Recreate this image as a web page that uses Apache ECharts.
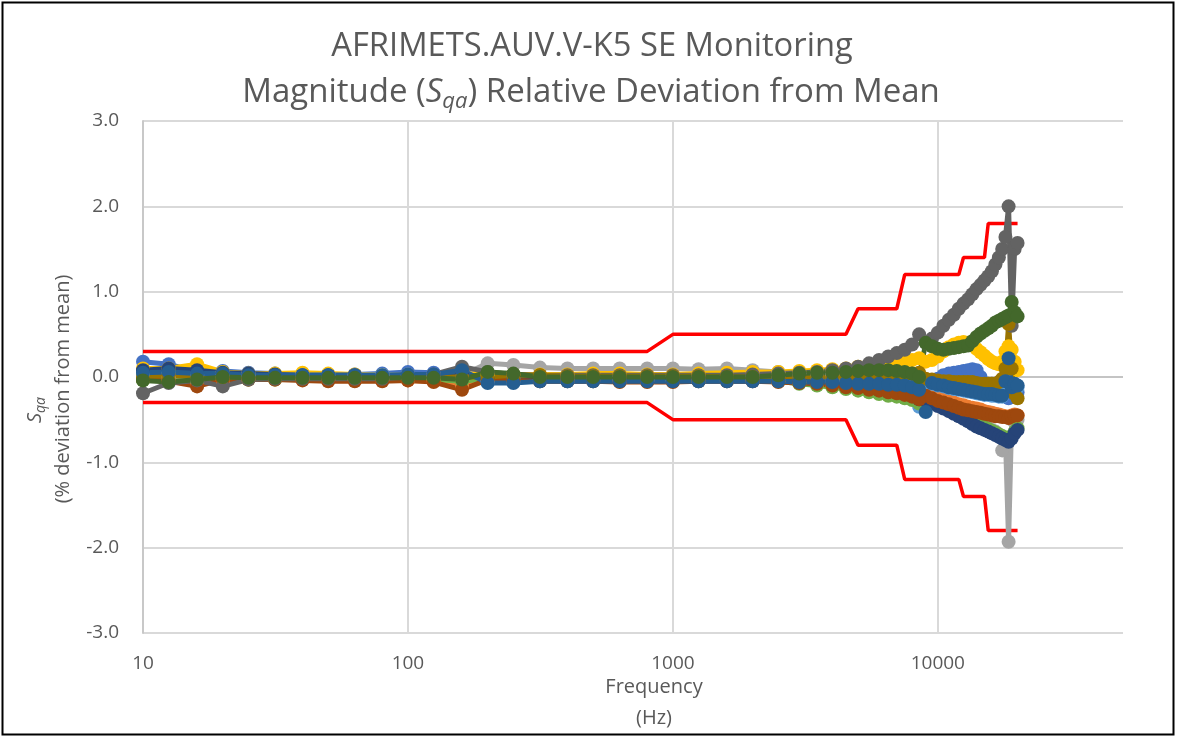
<!DOCTYPE html>
<html>
<head>
<meta charset="utf-8">
<script src="https://cdn.jsdelivr.net/npm/echarts@6/dist/echarts.min.js"></script>
<style>
  html, body { margin: 0; padding: 0; background: #ffffff; }
  #chart { width: 1177px; height: 738px; }
</style>
</head>
<body>
<div id="chart"></div>
<script>
// Measurement frequencies (Hz): third-octave up to 2 kHz, then 500 Hz steps
const freqHz = [
  10, 12.5, 16, 20, 25, 31.5, 40, 50, 63, 80,
  100, 125, 160, 200, 250, 315, 400, 500, 630, 800,
  1000, 1250, 1600, 2000, 2500, 3000, 3500, 4000, 4500, 5000,
  5500, 6000, 6500, 7000, 7500, 8000, 8500, 9000, 9500, 10000,
  10500, 11000, 11500, 12000, 12500, 13000, 13500, 14000, 14500, 15000,
  15500, 16000, 16500, 17000, 17500, 18000, 18500, 19000, 19500, 20000
];

// Relative deviation from the mean (%), one array per monitoring run
const lab01 = [
  0.18, 0.15, 0.06, 0.07, 0.05, 0.04, 0.04, 0.03, 0.03, 0.04,
  0.06, 0.05, 0.02, 0.00, -0.02, 0.00, 0.01, 0.00, 0.01, 0.00,
  0.01, 0.01, 0.02, 0.01, 0.00, -0.01, -0.02, -0.03, -0.04, -0.05,
  -0.06, -0.07, -0.08, -0.08, -0.08, -0.09, -0.10, -0.06, -0.05, -0.02,
  0.02, 0.04, 0.05, 0.06, 0.07, 0.08, 0.09, 0.08, 0.00, -0.08,
  -0.11, -0.13, -0.15, -0.16, -0.18, -0.20, -0.25, -0.20, -0.18, -0.18
];
const lab02 = [
  -0.02, -0.03, -0.08, -0.04, -0.03, -0.03, -0.03, -0.04, -0.04, -0.04,
  -0.04, -0.05, -0.10, -0.04, -0.03, -0.03, -0.03, -0.04, -0.04, -0.04,
  -0.04, -0.04, -0.04, -0.04, -0.05, -0.06, -0.08, -0.10, -0.12, -0.14,
  -0.16, -0.17, -0.19, -0.20, -0.22, -0.24, -0.27, -0.20, -0.22, -0.24,
  -0.26, -0.28, -0.30, -0.32, -0.33, -0.35, -0.36, -0.37, -0.38, -0.40,
  -0.41, -0.42, -0.43, -0.44, -0.45, -0.46, -0.47, -0.45, -0.44, -0.45
];
const lab03 = [
  0.02, 0.00, 0.02, 0.00, 0.02, 0.02, 0.02, 0.02, 0.02, 0.02,
  0.03, 0.02, 0.02, 0.16, 0.14, 0.11, 0.10, 0.10, 0.10, 0.10,
  0.10, 0.09, 0.10, 0.08, 0.06, 0.04, 0.03, 0.02, 0.00, -0.02,
  -0.05, -0.08, -0.10, -0.12, -0.14, -0.16, -0.20, -0.24, -0.27, -0.30,
  -0.33, -0.36, -0.39, -0.42, -0.45, -0.48, -0.51, -0.54, -0.56, -0.58,
  -0.60, -0.62, -0.64, -0.68, -0.86, -0.72, -1.93, -0.50, -0.48, -0.50
];
const lab04 = [
  0.10, 0.10, 0.15, 0.06, 0.04, 0.04, 0.05, 0.04, 0.03, 0.02,
  0.02, 0.02, 0.04, 0.02, 0.03, 0.03, 0.03, 0.04, 0.04, 0.03,
  0.03, 0.04, 0.05, 0.06, 0.06, 0.07, 0.08, 0.09, 0.10, 0.12,
  0.13, 0.14, 0.15, 0.17, 0.18, 0.20, 0.22, 0.18, 0.20, 0.24,
  0.30, 0.35, 0.38, 0.40, 0.41, 0.40, 0.37, 0.33, 0.29, 0.25,
  0.21, 0.18, 0.16, 0.15, 0.18, 0.30, 0.36, 0.32, 0.18, 0.08
];
const lab05 = [
  0.04, 0.05, 0.03, 0.03, 0.02, 0.02, 0.02, 0.02, 0.02, 0.02,
  0.02, 0.02, 0.06, -0.06, -0.06, -0.05, -0.05, -0.05, -0.05, -0.05,
  -0.05, -0.05, -0.05, -0.05, -0.05, -0.06, -0.07, -0.07, -0.08, -0.08,
  -0.09, -0.09, -0.10, -0.10, -0.11, -0.14, -0.35, -0.06, -0.08, -0.10,
  -0.11, -0.13, -0.14, -0.15, -0.16, -0.17, -0.18, -0.19, -0.20, -0.21,
  -0.21, -0.22, -0.22, -0.23, -0.23, -0.10, 0.10, -0.14, -0.10, -0.12
];
const lab06 = [
  -0.04, -0.04, -0.05, -0.02, -0.03, -0.03, -0.03, -0.03, -0.03, -0.03,
  -0.03, -0.03, -0.05, -0.02, -0.02, -0.03, -0.03, -0.03, -0.03, -0.03,
  -0.04, -0.04, -0.04, -0.04, -0.05, -0.08, -0.10, -0.12, -0.14, -0.16,
  -0.18, -0.20, -0.22, -0.23, -0.25, -0.27, -0.31, -0.26, -0.29, -0.32,
  -0.35, -0.38, -0.41, -0.44, -0.47, -0.50, -0.52, -0.55, -0.57, -0.59,
  -0.61, -0.63, -0.65, -0.67, -0.69, -0.71, -0.72, -0.69, -0.64, -0.60
];
const lab07 = [
  0.08, 0.10, 0.08, 0.05, 0.04, 0.03, 0.02, 0.02, 0.02, 0.01,
  0.02, 0.02, 0.04, -0.02, -0.03, -0.02, -0.02, -0.02, -0.02, -0.02,
  -0.02, -0.02, -0.03, -0.03, -0.04, -0.05, -0.06, -0.08, -0.10, -0.11,
  -0.13, -0.15, -0.17, -0.18, -0.20, -0.22, -0.26, -0.28, -0.31, -0.34,
  -0.37, -0.40, -0.43, -0.46, -0.49, -0.52, -0.55, -0.58, -0.60, -0.62,
  -0.64, -0.66, -0.68, -0.70, -0.72, -0.74, -0.76, -0.72, -0.66, -0.62
];
const lab08 = [
  -0.03, -0.05, -0.11, -0.03, -0.03, -0.03, -0.04, -0.05, -0.05, -0.05,
  -0.04, -0.06, -0.15, -0.03, -0.04, -0.05, -0.05, -0.05, -0.06, -0.06,
  -0.06, -0.05, -0.05, -0.05, -0.06, -0.07, -0.08, -0.10, -0.12, -0.13,
  -0.15, -0.16, -0.18, -0.19, -0.21, -0.23, -0.26, -0.22, -0.25, -0.28,
  -0.30, -0.32, -0.34, -0.36, -0.38, -0.39, -0.40, -0.41, -0.42, -0.43,
  -0.44, -0.45, -0.46, -0.46, -0.47, -0.47, -0.48, -0.46, -0.45, -0.45
];
const lab09 = [
  -0.19, -0.07, -0.04, -0.11, -0.03, -0.02, -0.02, -0.02, -0.02, -0.02,
  0.00, 0.03, 0.12, 0.06, 0.03, 0.02, 0.02, 0.02, 0.02, 0.02,
  0.02, 0.02, 0.02, 0.03, 0.04, 0.05, 0.06, 0.08, 0.10, 0.12,
  0.16, 0.20, 0.24, 0.28, 0.32, 0.38, 0.50, 0.40, 0.45, 0.52,
  0.60, 0.67, 0.73, 0.80, 0.86, 0.91, 0.97, 1.03, 1.08, 1.13,
  1.18, 1.24, 1.32, 1.40, 1.50, 1.64, 2.00, 0.60, 1.50, 1.57
];
const lab10 = [
  0.00, 0.02, 0.00, 0.00, 0.00, 0.00, 0.00, 0.00, 0.00, 0.00,
  0.00, 0.00, 0.00, 0.00, 0.02, 0.02, 0.01, 0.01, 0.01, 0.01,
  0.01, 0.01, 0.00, 0.00, 0.00, 0.00, 0.00, 0.00, 0.00, -0.01,
  0.00, 0.01, 0.02, 0.02, 0.03, 0.04, 0.05, -0.02, -0.03, -0.04,
  -0.05, -0.05, -0.06, -0.06, -0.06, -0.06, -0.06, -0.07, -0.08, -0.08,
  -0.08, -0.08, -0.08, -0.06, -0.02, 0.10, 0.62, 0.10, -0.20, -0.25
];
const lab11 = [
  0.05, 0.06, 0.04, 0.04, 0.02, 0.02, 0.02, 0.02, 0.02, 0.02,
  0.03, 0.03, 0.08, -0.07, -0.07, -0.05, -0.05, -0.05, -0.05, -0.05,
  -0.05, -0.05, -0.05, -0.05, -0.05, -0.06, -0.06, -0.06, -0.07, -0.08,
  -0.08, -0.08, -0.09, -0.09, -0.10, -0.12, -0.15, -0.41, -0.07, -0.09,
  -0.10, -0.12, -0.13, -0.14, -0.15, -0.16, -0.17, -0.18, -0.19, -0.20,
  -0.20, -0.20, -0.21, -0.22, -0.22, -0.05, 0.22, -0.12, -0.08, -0.10
];
const lab12 = [
  -0.04, -0.06, -0.03, 0.00, -0.01, -0.01, -0.01, -0.01, -0.01, -0.01,
  -0.01, -0.01, -0.03, 0.06, 0.04, 0.00, 0.00, 0.00, 0.00, 0.00,
  0.00, 0.00, 0.00, 0.00, 0.02, 0.04, 0.05, 0.05, 0.06, 0.07,
  0.08, 0.08, 0.08, 0.07, 0.06, 0.04, 0.00, 0.40, 0.36, 0.33,
  0.32, 0.33, 0.34, 0.35, 0.36, 0.37, 0.42, 0.47, 0.51, 0.54,
  0.57, 0.60, 0.64, 0.66, 0.68, 0.70, 0.72, 0.88, 0.76, 0.71
];

const runColors = [
  '#4472C4', '#ED7D31', '#A5A5A5', '#FFC000', '#5B9BD5', '#70AD47',
  '#264478', '#9E480E', '#636363', '#997300', '#255E91', '#43682B'
];
const runs = [lab01, lab02, lab03, lab04, lab05, lab06, lab07, lab08, lab09, lab10, lab11, lab12];

// Acceptance limits (±%)
const limitFreq  = [10, 800, 1000, 4500, 5000, 7000, 7500, 12000, 12500, 15000, 15500, 20000];
const limitUpper = [0.3, 0.3, 0.5, 0.5, 0.8, 0.8, 1.2, 1.2, 1.4, 1.4, 1.8, 1.8];
const limitLower = [-0.3, -0.3, -0.5, -0.5, -0.8, -0.8, -1.2, -1.2, -1.4, -1.4, -1.8, -1.8];

// Axis ticks
const xTickLabels = ['10', '100', '1000', '10000'];
const yTickValues = [-3, -2, -1, 0, 1, 2, 3];

const FONT = 'Open Sans';
const TEXT = '#595959';

const chart = echarts.init(document.getElementById('chart'), null, { renderer: 'canvas' });

const limitSeries = [limitUpper, limitLower].map(vals => ({
  type: 'line',
  data: limitFreq.map((f, i) => [f, vals[i]]),
  symbol: 'none',
  silent: true,
  lineStyle: { color: '#FF0000', width: 3.5 },
  z: 2
}));

const runSeries = runs.map((vals, k) => ({
  type: 'line',
  data: freqHz.map((f, i) => [f, vals[i]]),
  symbol: 'circle',
  symbolSize: 14,
  showSymbol: true,
  showAllSymbol: true,
  silent: true,
  lineStyle: { color: runColors[k], width: 5 },
  itemStyle: { color: runColors[k] },
  z: 2
}));

chart.setOption({
  animation: false,
  backgroundColor: '#ffffff',
  grid: { left: 143, right: 54, top: 121, bottom: 105, containLabel: false },
  xAxis: {
    type: 'log',
    logBase: 10,
    min: 10,
    max: 50000,
    axisLine: { show: false },
    axisTick: { show: false },
    axisLabel: {
      color: TEXT,
      fontFamily: FONT,
      fontSize: 19,
      margin: 21,
      showMaxLabel: false,
      formatter: v => {
        const s = String(Math.round(v));
        return xTickLabels.indexOf(s) >= 0 ? s : '';
      }
    },
    splitLine: {
      show: true,
      showMinLine: false,
      showMaxLine: false,
      lineStyle: { color: '#d9d9d9', width: 2 }
    }
  },
  yAxis: {
    type: 'value',
    min: yTickValues[0],
    max: yTickValues[yTickValues.length - 1],
    interval: 1,
    axisLine: { show: true, lineStyle: { color: '#c8c8c8', width: 2 } },
    axisTick: { show: false },
    axisLabel: {
      color: TEXT,
      fontFamily: FONT,
      fontSize: 19,
      margin: 24,
      formatter: v => v.toFixed(1)
    },
    splitLine: {
      show: true,
      lineStyle: {
        color: yTickValues.map(v => (v === 0 ? '#c4c4c4' : '#d9d9d9')),
        width: 2
      }
    }
  },
  graphic: [
    {
      type: 'rect',
      silent: true,
      shape: { x: 2.5, y: 2.5, width: 1171, height: 732 },
      style: { fill: 'none', stroke: '#000000', lineWidth: 2 },
      z: 100
    },
    {
      type: 'text',
      silent: true,
      x: 592, y: 47,
      style: {
        text: 'AFRIMETS.AUV.V-K5 SE Monitoring',
        fill: TEXT, fontFamily: FONT, fontSize: 32.7,
        textAlign: 'center', textVerticalAlign: 'middle',
        align: 'center', verticalAlign: 'middle'
      }
    },
    {
      type: 'text',
      silent: true,
      x: 591, y: 93,
      style: {
        text: '{n|Magnitude (}{i|S}{sub|qa}{n|) Relative Deviation from Mean}',
        fill: TEXT, fontFamily: FONT, fontSize: 33,
        textAlign: 'center', textVerticalAlign: 'middle',
        align: 'center', verticalAlign: 'middle',
        rich: {
          n: { fontFamily: FONT, fontSize: 33, lineHeight: 40, fill: TEXT, color: TEXT },
          i: { fontFamily: FONT, fontSize: 33, lineHeight: 40, fontStyle: 'italic', fill: TEXT, color: TEXT },
          sub: { fontFamily: FONT, fontSize: 22, lineHeight: 22, fontStyle: 'italic', verticalAlign: 'bottom', fill: TEXT, color: TEXT }
        }
      }
    },
    {
      type: 'text',
      silent: true,
      x: 35, y: 410,
      rotation: Math.PI / 2,
      style: {
        text: '{i|S}{sub|qa}',
        fill: TEXT, fontFamily: FONT, fontSize: 20,
        textAlign: 'center', textVerticalAlign: 'middle',
        align: 'center', verticalAlign: 'middle',
        rich: {
          i: { fontFamily: FONT, fontSize: 20, lineHeight: 26, fontStyle: 'italic', fill: TEXT, color: TEXT },
          sub: { fontFamily: FONT, fontSize: 14, lineHeight: 14, fontStyle: 'italic', verticalAlign: 'bottom', fill: TEXT, color: TEXT }
        }
      }
    },
    {
      type: 'text',
      silent: true,
      x: 63, y: 389,
      rotation: Math.PI / 2,
      style: {
        text: '(% deviation from mean)',
        fill: TEXT, fontFamily: FONT, fontSize: 20,
        textAlign: 'center', textVerticalAlign: 'middle',
        align: 'center', verticalAlign: 'middle'
      }
    },
    {
      type: 'text',
      silent: true,
      x: 654, y: 687,
      style: {
        text: 'Frequency',
        fill: TEXT, fontFamily: FONT, fontSize: 20,
        textAlign: 'center', textVerticalAlign: 'middle',
        align: 'center', verticalAlign: 'middle'
      }
    },
    {
      type: 'text',
      silent: true,
      x: 654, y: 718,
      style: {
        text: '(Hz)',
        fill: TEXT, fontFamily: FONT, fontSize: 20,
        textAlign: 'center', textVerticalAlign: 'middle',
        align: 'center', verticalAlign: 'middle'
      }
    }
  ],
  series: limitSeries.concat(runSeries)
});
</script>
</body>
</html>
